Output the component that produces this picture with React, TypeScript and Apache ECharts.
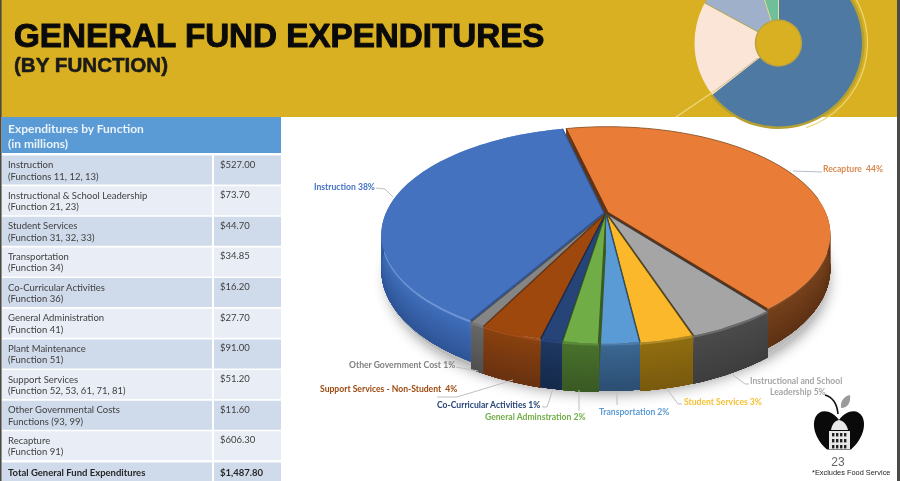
import React, { useEffect, useRef } from "react";
import * as echarts from "echarts";

const rowNames = ["Instruction", "Instructional & School Leadership", "Student Services", "Transportation", "Co-Curricular Activities", "General Administration", "Plant Maintenance", "Support Services", "Other Governmental Costs", "Recapture"];
const rowCodes = ["(Functions 11, 12, 13)", "(Function 21, 23)", "(Function 31, 32, 33)", "(Function 34)", "(Function 36)", "(Function 41)", "(Function 51)", "(Function 52, 53, 61, 71, 81)", "Functions (93, 99)", "(Function 91)"];
const rowAmounts = ["$527.00", "$73.70", "$44.70", "$34.85", "$16.20", "$27.70", "$91.00", "$51.20", "$11.60", "$606.30"];

const sliceNames = ["Recapture", "Instructional and School Leadership", "Student Services", "Transportation", "General Adminstration", "Co-Curricular Activities", "Support Services - Non-Student", "Other Government Cost", "Instruction"];
const sliceShares = [43.1, 5.4, 3.2, 2.4, 2.1, 1.3, 3.7, 0.9, 37.9];

const topColors = ["#E97C36", "#A5A5A5", "#FBB82A", "#5B9BD5", "#70AD47", "#264478", "#9E480E", "#858585", "#4472BE"];
const wallTop = ["#74401B", "#4A4A4A", "#8F6C10", "#3A6690", "#48702C", "#1D3760", "#87400F", "#666666", "#3F6DB8"];
const wallBottom = ["#5E3214", "#3E3E3E", "#7A5A0E", "#2C4F72", "#3A5A24", "#152A4C", "#6A3210", "#4F4F4F", "#2F5597"];
const rimColors = ["#8A4C20", "#6A6A6A", "#B08A20", "#4A7AA8", "#5A8A38", "#264478", "#A04C14", "#777777", "#6A94DA"];
const edgeColors = ["#5E3214", "#3E3E3E", "#5E4A10", "#2C4F72", "#3A5A24", "#152A4C", "#6A3210", "#4F4F4F", "#2F5597"];
const explode = [0.01, 0.012, 0.01, 0.008, 0.008, 0.008, 0.01, 0.01, 0.01];
const depths = [33, 39, 39, 38, 39, 39, 39, 39, 34];
const drawOrder = [0, 8, 7, 1, 6, 2, 5, 3, 4];
const START_DEG = -13.2;

const CX = 606, K = 218, A = 60.6, B = 213, C = -0.2;
const proj = (u: number, v: number, z = 0): number[] => {
  const w = 1 + C * v;
  return [CX + (K * u) / w, (A * v + B + z) / w];
};
const rad = (d: number) => (d * Math.PI) / 180;
const mix = (a: string, b: string, t: number) => {
  const p = (s: string, i: number) => parseInt(s.slice(i, i + 2), 16);
  const c = [1, 3, 5].map((i) => Math.round(p(a, i) + (p(b, i) - p(a, i)) * t));
  return `rgb(${c[0]},${c[1]},${c[2]})`;
};

const totalShare = sliceShares.reduce((x, y) => x + y, 0);
const starts: number[] = [];
sliceShares.reduce((acc, s, i) => {
  starts[i] = acc;
  return acc + (s * 360) / totalShare;
}, START_DEG);

const renderSlice = (params: any, api: any) => {
  const i = api.value(0);
  const share = api.value(1);
  const a0 = starts[i];
  const a1 = a0 + (share * 360) / totalShare;
  const mid = rad((a0 + a1) / 2);
  const ex = Math.sin(mid) * explode[i];
  const ey = -Math.cos(mid) * explode[i];
  const d = depths[i];
  const n = Math.max(3, Math.ceil((a1 - a0) / 2));
  const pt = (deg: number, z: number) => proj(Math.sin(rad(deg)) + ex, -Math.cos(rad(deg)) + ey, z);
  const arc = (z: number) => {
    const out: number[][] = [];
    for (let k = 0; k <= n; k++) out.push(pt(a0 + ((a1 - a0) * k) / n, z));
    return out;
  };
  const apex = (z: number) => proj(ex, ey, z);
  const children: any[] = [];
  if (params.dataIndex === 0) {
    const ring: number[][] = [];
    for (let k = 0; k < 90; k++) ring.push(proj(Math.sin(rad(k * 4)) * 0.99, -Math.cos(rad(k * 4)) * 0.99 + 0.01, 39));
    children.push({ type: "polygon", shape: { points: ring }, style: { fill: "#bbbbbb", shadowBlur: 14, shadowColor: "rgba(0,0,0,0.4)", shadowOffsetY: 3, shadowOffsetX: 2 } });
  }
  // radial cut faces
  [a0, a1].forEach((deg) => {
    children.push({
      type: "polygon",
      shape: { points: [apex(0), pt(deg, 0), pt(deg, d), apex(d)] },
      style: { fill: wallBottom[i] },
    });
  });
  // rim wall, painted as stacked bands that fade from rim to bottom
  const bottom = arc(d);
  const bandCount = 14;
  for (let b = 0; b < bandCount; b++) {
    const f = b === 0 ? 0 : 0.05 + ((b - 1) / (bandCount - 1)) * 0.95;
    const pts = arc(d * f).concat(bottom.slice().reverse());
    const fill = b === 0 ? rimColors[i] : mix(wallTop[i], wallBottom[i], (b - 1) / (bandCount - 2));
    children.push({ type: "polygon", shape: { points: pts }, style: { fill } });
  }
  // top face
  const rim = arc(0);
  children.push({
    type: "polygon",
    shape: { points: [apex(0)].concat(rim) },
    style: { fill: topColors[i] },
  });
  // dark edges on the two radial sides
  children.push({
    type: "polyline",
    shape: { points: [pt(a0, 0), apex(0), pt(a1, 0)] },
    style: { stroke: edgeColors[i], lineWidth: 1.1, fill: "none" },
  });
  if (i === 0) {
    const far = rim.slice(0, Math.ceil(n * 0.62));
    children.push({ type: "polyline", shape: { points: far }, style: { stroke: "#8A5A34", lineWidth: 0.8, fill: "none" } });
  }
  return { type: "group", children };
};

// Apple logo paths
echarts.graphic.registerShape(
  "appleBody",
  echarts.graphic.extendPath(
    "M839 420 C832 410 820 408 815.5 417 C811 427 817 441 827 449.5 L851 449.5 C861 441 867 427 862.5 417 C858 408 846 410 839 420 Z",
    {}
  )
);
echarts.graphic.registerShape(
  "appleLeaf",
  echarts.graphic.extendPath("M841 408 C840 400 845 396 850 395 C851 402 848 408 841 408 Z", {})
);
echarts.graphic.registerShape(
  "capitolDome",
  echarts.graphic.extendPath("M839 420 C834 421 832 425 831 430 L848 430 C847 425 844 421 839 420 Z M829 431 H850 V449 H829 Z", {})
);

const text = (t: string, x: number, y: number, fontSize: number, fill: string, extra: any = {}) => ({
  type: "text",
  z: extra.z ?? 6,
  style: {
    text: t,
    x,
    y,
    fontSize,
    fill,
    fontFamily: extra.fontFamily ?? "Lato",
    fontWeight: extra.fontWeight ?? 400,
    align: extra.align ?? "left",
    textAlign: extra.align ?? "left",
    verticalAlign: "middle",
    textVerticalAlign: "middle",
    stroke: extra.stroke,
    lineWidth: extra.lineWidth,
  },
});
const rect = (x: number, y: number, width: number, height: number, fill: string, z = 1) => ({ type: "rect", z, shape: { x, y, width, height }, style: { fill } });
const leader = (pts: number[][], stroke = "#BFBFBF") => ({ type: "polyline", z: 5, shape: { points: pts }, style: { stroke, lineWidth: 1, fill: "none" } });

const buildGraphic = () => {
  const el: any[] = [];
  el.push(rect(0, 0, 900, 481, "#FFFFFF", 0));
  el.push(rect(0, 0, 900, 117, "#D9B022", 1));

  // decorative pie
  const dc = { cx: 778.5, cy: 43 };
  const sector = (r0: number, r: number, s: number, e: number, fill: string, extra: any = {}) => ({
    type: "sector",
    z: 2,
    shape: { ...dc, r0, r, startAngle: rad(s), endAngle: rad(e) },
    style: { fill, ...extra },
  });
  el.push(sector(88.4, 89.6, -40, 72, "#EBD77A"));
  el.push(sector(0, 86, -90, 142, "#B5A032"));
  el.push(sector(0, 83.5, -90, 142, "#4E79A2"));
  el.push(sector(0, 84, 142, 208.5, "#FBE5D6"));
  el.push(sector(0, 84, 208.5, 252, "#9FB0CB", { stroke: "#B5A857", lineWidth: 1 }));
  el.push(sector(0, 84, 252, 270, "#6FBF98", { stroke: "#E5DC9A", lineWidth: 1 }));
  el.push({ type: "circle", z: 2, shape: { ...dc, r: 23 }, style: { fill: "#D9B022", stroke: "#B9A240", lineWidth: 1.5 } });
  el.push({ type: "line", z: 2, shape: { x1: 676, y1: 117, x2: 716, y2: 90 }, style: { stroke: "#EBD77A", lineWidth: 1.5 } });
  el.push({ type: "line", z: 2, shape: { x1: 716, y1: 90, x2: 758, y2: 58 }, style: { stroke: "#C9B89A", lineWidth: 1 } });

  // title
  el.push(text("GENERAL FUND EXPENDITURES", 14, 35.4, 33.2, "#0A0A0A", { fontFamily: "Liberation Sans", fontWeight: 700, stroke: "#0A0A0A", lineWidth: 1 }));
  el.push(text("(BY FUNCTION)", 14, 64, 20.6, "#1A1A1A", { fontFamily: "Liberation Sans", fontWeight: 700, stroke: "#1A1A1A", lineWidth: 0.5 }));

  // table
  el.push(rect(2, 117, 279, 36, "#5B9BD5", 2));
  el.push(text("Expenditures by Function", 8, 128, 12, "#EAF2FA", { fontWeight: 700 }));
  el.push(text("(in millions)", 8, 143, 12, "#EAF2FA", { fontWeight: 700 }));
  const rowTop = (i: number) => 155.5 + 30.65 * i;
  rowNames.forEach((name, i) => {
    const y = rowTop(i);
    const fill = i % 2 === 0 ? "#CFDAEA" : "#E9EEF6";
    el.push(rect(2, y, 210, 29, fill, 2));
    el.push(rect(214, y, 67, 29, fill, 2));
    el.push(text(name, 8, y + 9, 9.5, "#404040"));
    el.push(text(rowCodes[i], 8, y + 20.5, 9.5, "#404040"));
    el.push(text(rowAmounts[i], 220, y + 8.5, 9.5, "#404040"));
  });
  el.push(rect(2, 462.5, 210, 18.5, "#CFDAEA", 2));
  el.push(rect(214, 462.5, 67, 18.5, "#CFDAEA", 2));
  el.push(text("Total General Fund Expenditures", 8, 472, 9.5, "#262626", { fontWeight: 700 }));
  el.push(text("$1,487.80", 220, 472, 9.5, "#262626", { fontWeight: 700 }));

  // data labels and leaders
  const lb = { fontWeight: 700 };
  el.push(text("Instruction 38%", 314, 187, 8.6, "#4472C4", lb));
  el.push(leader([[376, 188], [385, 189], [393, 197]]));
  el.push(text("Recapture  44%", 823, 169, 8.6, "#D98A4E", lb));
  el.push(leader([[793, 171], [822, 172]], "#B8BEC6"));
  el.push(text("Other Government Cost 1%", 349, 365, 8.6, "#7F7F7F", lb));
  el.push(leader([[456, 367], [478, 371]]));
  el.push(text("Support Services - Non-Student  4%", 320, 389, 8.6, "#9E480E", lb));
  el.push(leader([[437, 397], [457, 397], [513, 380]]));
  el.push(text("Co-Curricular Activities 1%", 437, 405, 8.6, "#264478", lb));
  el.push(leader([[542, 407], [547, 407], [553, 389]]));
  el.push(text("General Adminstration 2%", 485, 417, 8.6, "#70AD47", lb));
  el.push(leader([[579, 411], [579, 390]]));
  el.push(text("Transportation 2%", 599, 412, 8.6, "#5B9BD5", lb));
  el.push(leader([[617, 405], [617, 392]]));
  el.push(text("Student Services 3%", 684, 402, 8.6, "#F5C034", lb));
  el.push(leader([[667, 389], [678, 404], [682, 404]]));
  el.push(text("Instructional and School", 750, 381, 8.6, "#A5A5A5", lb));
  el.push(text("Leadership 5%", 770, 392, 8.6, "#A5A5A5", lb));
  el.push(leader([[733, 375], [745, 384], [749, 384]]));

  // logo
  el.push({ type: "bezierCurve", z: 6, shape: { x1: 825, y1: 395, cpx1: 832, cpy1: 397, cpx2: 837, cpy2: 403, x2: 838, y2: 414 }, style: { stroke: "#111111", lineWidth: 1.6, fill: "none" } });
  el.push({ type: "appleLeaf", z: 6, style: { fill: "#9A9A9A" } });
  el.push({ type: "appleBody", z: 6, style: { fill: "#0A0A0A" } });
  el.push({ type: "capitolDome", z: 7, style: { fill: "#E8E8E8" } });
  [433, 439, 445].forEach((y) => {
    [832, 836, 840, 844].forEach((x) => el.push(rect(x, y, 2.4, 3.4, "#222222", 8)));
  });

  el.push(text("23", 838, 462, 12, "#666666", { align: "center", fontFamily: "Liberation Sans" }));
  el.push(text("*Excludes Food Service", 812, 472.5, 7.4, "#222222", { fontFamily: "Liberation Sans" }));

  // frame strips
  el.push(rect(0, 0, 1.6, 481, "#4A4A44", 9));
  el.push(rect(897, 0, 3, 481, "#4A4A48", 9));
  return el;
};

export default function App() {
  const ref = useRef<HTMLDivElement>(null);
  useEffect(() => {
    document.body.style.margin = "0";
    const chart = echarts.init(ref.current!, undefined, { renderer: "svg" });
    chart.setOption({
      animation: false,
      graphic: { elements: buildGraphic() },
      series: [
        {
          type: "custom",
          coordinateSystem: "none",
          z: 3,
          silent: true,
          renderItem: renderSlice,
          data: drawOrder.map((i) => ({ name: sliceNames[i], value: [i, sliceShares[i]] })),
        },
      ],
    });
    return () => chart.dispose();
  }, []);
  return <div ref={ref} style={{ width: 900, height: 481, filter: "blur(0.4px)" }} />;
}
